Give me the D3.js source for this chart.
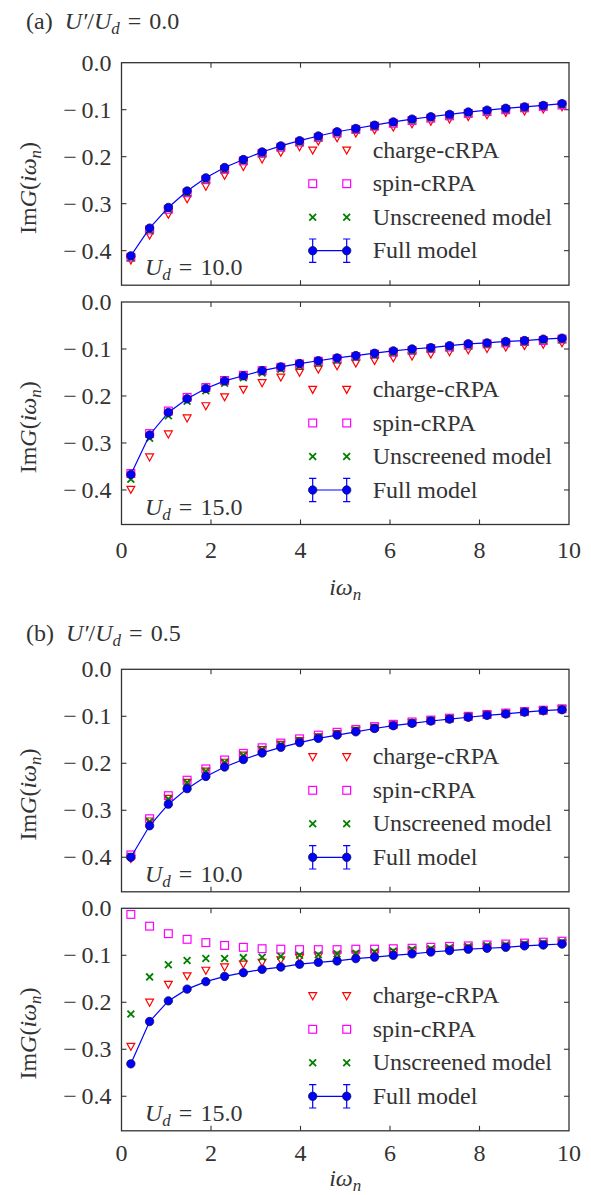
<!DOCTYPE html>
<html>
<head>
<meta charset="utf-8">
<script src="https://cdn.jsdelivr.net/npm/d3@7"></script>
<style>
  body { margin: 0; background: #fff; }
  svg { display: block; }
  text { font-family: 'Liberation Serif', 'Times New Roman', serif; fill: #333; }
</style>
</head>
<body>
<svg id="chart" width="591" height="1195"></svg>
<script>
// Matsubara frequencies (beta = 15)
const omega = [0.209, 0.628, 1.047, 1.466, 1.885, 2.304, 2.723, 3.142, 3.560, 3.979, 4.398, 4.817,
               5.236, 5.655, 6.074, 6.493, 6.912, 7.330, 7.749, 8.168, 8.587, 9.006, 9.425, 9.844];

const xTicks = [0, 2, 4, 6, 8, 10];
const yTicks = [0.0, -0.1, -0.2, -0.3, -0.4];
const seriesNames = ["charge-cRPA", "spin-cRPA", "Unscreened model", "Full model"];
const panelUd = ["10.0", "15.0", "10.0", "15.0"];
const groupLabels = [["(a)", "0.0"], ["(b)", "0.5"]];

// U'/Ud = 0.0, Ud = 10
const chargeA10 = [-0.420, -0.367, -0.323, -0.290, -0.263, -0.240, -0.221, -0.205, -0.191, -0.179, -0.167, -0.160,
                   -0.150, -0.143, -0.137, -0.130, -0.125, -0.120, -0.115, -0.111, -0.106, -0.103, -0.099, -0.094];
const spinA10   = [-0.414, -0.356, -0.312, -0.277, -0.249, -0.227, -0.209, -0.193, -0.180, -0.169, -0.159, -0.150,
                   -0.142, -0.135, -0.129, -0.123, -0.118, -0.113, -0.108, -0.104, -0.100, -0.096, -0.093, -0.090];
const unscrA10  = [-0.415, -0.357, -0.312, -0.277, -0.249, -0.227, -0.209, -0.193, -0.180, -0.169, -0.159, -0.150,
                   -0.142, -0.135, -0.128, -0.122, -0.117, -0.112, -0.107, -0.103, -0.099, -0.096, -0.092, -0.089];
const fullA10   = [-0.411, -0.352, -0.308, -0.273, -0.245, -0.223, -0.206, -0.190, -0.177, -0.166, -0.156, -0.147,
                   -0.140, -0.133, -0.126, -0.120, -0.115, -0.110, -0.105, -0.101, -0.097, -0.094, -0.091, -0.087];

// U'/Ud = 0.0, Ud = 15
const chargeA15 = [-0.399, -0.330, -0.281, -0.247, -0.221, -0.202, -0.186, -0.172, -0.160, -0.150, -0.143, -0.136,
                   -0.130, -0.125, -0.119, -0.115, -0.111, -0.106, -0.102, -0.099, -0.096, -0.093, -0.090, -0.087];
const spinA15   = [-0.365, -0.280, -0.232, -0.203, -0.182, -0.167, -0.156, -0.146, -0.139, -0.132, -0.126, -0.121,
                   -0.116, -0.111, -0.107, -0.103, -0.099, -0.096, -0.092, -0.089, -0.087, -0.084, -0.082, -0.079];
const unscrA15  = [-0.377, -0.290, -0.242, -0.211, -0.189, -0.173, -0.161, -0.151, -0.143, -0.136, -0.130, -0.124,
                   -0.118, -0.113, -0.108, -0.104, -0.100, -0.097, -0.093, -0.090, -0.087, -0.085, -0.082, -0.080];
const fullA15   = [-0.367, -0.283, -0.235, -0.206, -0.184, -0.168, -0.157, -0.146, -0.138, -0.131, -0.125, -0.119,
                   -0.114, -0.109, -0.104, -0.100, -0.097, -0.093, -0.089, -0.087, -0.084, -0.082, -0.079, -0.077];

// U'/Ud = 0.5, Ud = 10
const chargeB10 = [-0.403, -0.323, -0.275, -0.241, -0.217, -0.198, -0.183, -0.171, -0.160, -0.152, -0.144, -0.137,
                   -0.130, -0.124, -0.119, -0.114, -0.109, -0.105, -0.101, -0.097, -0.094, -0.091, -0.088, -0.085];
const spinB10   = [-0.395, -0.318, -0.269, -0.236, -0.212, -0.193, -0.179, -0.167, -0.157, -0.148, -0.140, -0.134,
                   -0.128, -0.122, -0.117, -0.112, -0.108, -0.104, -0.100, -0.096, -0.093, -0.090, -0.087, -0.084];
const unscrB10  = [-0.398, -0.324, -0.276, -0.241, -0.217, -0.198, -0.183, -0.171, -0.160, -0.152, -0.144, -0.137,
                   -0.130, -0.124, -0.119, -0.114, -0.109, -0.105, -0.101, -0.097, -0.094, -0.091, -0.088, -0.085];
const fullB10   = [-0.400, -0.333, -0.287, -0.254, -0.228, -0.208, -0.192, -0.178, -0.166, -0.156, -0.147, -0.140,
                   -0.133, -0.126, -0.120, -0.115, -0.110, -0.106, -0.102, -0.098, -0.095, -0.091, -0.088, -0.086];

// U'/Ud = 0.5, Ud = 15
const chargeB15 = [-0.294, -0.200, -0.162, -0.144, -0.132, -0.125, -0.119, -0.115, -0.110, -0.105, -0.102, -0.100,
                   -0.098, -0.096, -0.094, -0.091, -0.089, -0.087, -0.085, -0.083, -0.081, -0.079, -0.077, -0.075];
const spinB15   = [-0.013, -0.038, -0.054, -0.066, -0.073, -0.079, -0.083, -0.086, -0.087, -0.088, -0.088, -0.088,
                   -0.087, -0.087, -0.086, -0.085, -0.083, -0.081, -0.080, -0.078, -0.076, -0.074, -0.072, -0.070];
const unscrB15  = [-0.225, -0.146, -0.120, -0.111, -0.107, -0.107, -0.105, -0.104, -0.102, -0.100, -0.099, -0.097,
                   -0.096, -0.093, -0.091, -0.088, -0.086, -0.084, -0.082, -0.080, -0.078, -0.076, -0.074, -0.072];
const fullB15   = [-0.331, -0.241, -0.197, -0.172, -0.156, -0.145, -0.137, -0.130, -0.125, -0.119, -0.115, -0.112,
                   -0.107, -0.104, -0.100, -0.097, -0.093, -0.090, -0.087, -0.085, -0.083, -0.080, -0.078, -0.076];

const panelData = [
  [chargeA10, spinA10, unscrA10, fullA10],
  [chargeA15, spinA15, unscrA15, fullA15],
  [chargeB10, spinB10, unscrB10, fullB10],
  [chargeB15, spinB15, unscrB15, fullB15]
];

// ---- layout ----
const plotLeft = 121.5, plotRight = 569;
const panelTops = [62.7, 302, 669.3, 908.3];
const panelH = 222.5;
const colors = { charge: "#ff0000", spin: "#ff00ff", unscr: "#008000", full: "#0000ff" };
const axisColor = "#333";
const FS = 24, SUB = 17;
// the lower panel of each group carries the x axis labels
const xAxisText = { 1: { tick: 33, label: 70 }, 3: { tick: 30, label: 55 } };

const svg = d3.select("#chart");
const x = d3.scaleLinear().domain([0, 10]).range([plotLeft, plotRight]);

// marker drawers
function triDown(g, cx, cy) {
  g.append("path")
    .attr("d", `M${cx - 3.9},${cy - 3.1}L${cx + 3.9},${cy - 3.1}L${cx},${cy + 3.9}Z`)
    .attr("fill", "none").attr("stroke", colors.charge).attr("stroke-width", 1.2);
}
function square(g, cx, cy) {
  g.append("rect").attr("x", cx - 3.9).attr("y", cy - 3.9).attr("width", 7.8).attr("height", 7.8)
    .attr("fill", "none").attr("stroke", colors.spin).attr("stroke-width", 1.2);
}
function cross(g, cx, cy) {
  g.append("path")
    .attr("d", `M${cx - 3.4},${cy - 3.4}L${cx + 3.4},${cy + 3.4}M${cx - 3.4},${cy + 3.4}L${cx + 3.4},${cy - 3.4}`)
    .attr("fill", "none").attr("stroke", colors.unscr).attr("stroke-width", 1.8);
}
function dot(g, cx, cy) {
  g.append("circle").attr("cx", cx).attr("cy", cy).attr("r", 4.2)
    .attr("fill", colors.full).attr("stroke", "#101050").attr("stroke-width", 0.8);
}
const markerFns = [triDown, square, cross, dot];

// "U_d" style italic symbol with italic subscript
function symbolWithSub(t, sym, sub) {
  t.append("tspan").attr("font-style", "italic").text(sym);
  t.append("tspan").attr("font-style", "italic").attr("font-size", SUB).attr("dy", 5).text(sub);
  return t.append("tspan").attr("dy", -5);
}

panelData.forEach((series, pi) => {
  const top = panelTops[pi];
  const bottom = top + panelH;
  const y = d3.scaleLinear().domain([-0.4735, 0]).range([bottom, top]);
  const g = svg.append("g");

  // inward ticks on all four sides
  const tickLen = 5;
  xTicks.slice(1, -1).forEach(t => {
    g.append("line").attr("x1", x(t)).attr("x2", x(t)).attr("y1", bottom).attr("y2", bottom - tickLen)
      .attr("stroke", axisColor).attr("stroke-width", 1.1);
    g.append("line").attr("x1", x(t)).attr("x2", x(t)).attr("y1", top).attr("y2", top + tickLen)
      .attr("stroke", axisColor).attr("stroke-width", 1.1);
  });
  yTicks.slice(1).forEach(t => {
    g.append("line").attr("x1", plotLeft).attr("x2", plotLeft + tickLen).attr("y1", y(t)).attr("y2", y(t))
      .attr("stroke", axisColor).attr("stroke-width", 1.1);
    g.append("line").attr("x1", plotRight).attr("x2", plotRight - tickLen).attr("y1", y(t)).attr("y2", y(t))
      .attr("stroke", axisColor).attr("stroke-width", 1.1);
  });

  // y tick labels (wide minus, as typeset in math mode)
  yTicks.forEach(t => {
    g.append("text").attr("x", plotLeft - 10).attr("y", y(t) + 8).attr("text-anchor", "end")
      .attr("font-size", FS)
      .text(t === 0 ? "0.0" : "\u2212\u2009" + Math.abs(t).toFixed(1));
  });

  // x tick labels and axis title
  if (xAxisText[pi]) {
    const off = xAxisText[pi];
    xTicks.forEach(t => {
      g.append("text").attr("x", x(t)).attr("y", bottom + off.tick).attr("text-anchor", "middle")
        .attr("font-size", FS).text(t);
    });
    const xl = g.append("text").attr("x", x(5)).attr("y", bottom + off.label).attr("text-anchor", "middle")
      .attr("font-size", FS);
    symbolWithSub(xl, "i\u03C9", "n");
  }

  // y axis label
  const yl = g.append("text")
    .attr("transform", `translate(36,${(top + bottom) / 2 + 14}) rotate(-90)`)
    .attr("text-anchor", "middle").attr("font-size", FS);
  yl.append("tspan").text("Im");
  yl.append("tspan").attr("font-style", "italic").text("G");
  yl.append("tspan").text("(");
  symbolWithSub(yl, "i\u03C9", "n").text(")");

  // data markers: charge, spin, unscreened, then full model on top
  const mg = g.append("g");
  [0, 1, 2].forEach(si => {
    series[si].forEach((v, i) => markerFns[si](mg, x(omega[i]), y(v)));
  });
  const line = d3.line().x((d, i) => x(omega[i])).y(d => y(d));
  mg.append("path").datum(series[3]).attr("d", line)
    .attr("fill", "none").attr("stroke", colors.full).attr("stroke-width", 1.2);
  series[3].forEach((v, i) => dot(mg, x(omega[i]), y(v)));

  // frame
  g.append("rect").attr("x", plotLeft).attr("y", top).attr("width", plotRight - plotLeft).attr("height", panelH)
    .attr("fill", "none").attr("stroke", axisColor).attr("stroke-width", 1.3);

  // legend
  const lx1 = 312.7, lx2 = 346.7, ltx = 372.7;
  const rows = [87.5, 121, 154.5, 188];
  rows.forEach((r, si) => {
    const ry = top + r;
    if (si < 3) {
      markerFns[si](g, lx1, ry);
      markerFns[si](g, lx2, ry);
    } else {
      g.append("line").attr("x1", lx1).attr("x2", lx2).attr("y1", ry).attr("y2", ry)
        .attr("stroke", colors.full).attr("stroke-width", 1.2);
      [lx1, lx2].forEach(cx => {
        g.append("path")
          .attr("d", `M${cx},${ry - 11.7}L${cx},${ry + 11.7}M${cx - 3.6},${ry - 11.7}L${cx + 3.6},${ry - 11.7}M${cx - 3.6},${ry + 11.7}L${cx + 3.6},${ry + 11.7}`)
          .attr("fill", "none").attr("stroke", colors.full).attr("stroke-width", 1.2);
        dot(g, cx, ry);
      });
    }
    g.append("text").attr("x", ltx).attr("y", ry + 7.5).attr("font-size", FS).text(seriesNames[si]);
  });

  // U_d annotation
  const ann = g.append("text").attr("x", 145).attr("y", top + 212.5).attr("font-size", FS);
  symbolWithSub(ann, "U", "d").text("\u2004=\u2004" + panelUd[pi]);
});

// group titles
[[0, 29], [1, 641]].forEach(([gi, yy]) => {
  const t = svg.append("text").attr("x", 26).attr("y", yy).attr("font-size", FS);
  t.append("tspan").text(groupLabels[gi][0] + "\u2002");
  t.append("tspan").attr("font-style", "italic").text("U\u2032");
  t.append("tspan").text("/");
  symbolWithSub(t, "U", "d").text("\u2004=\u2004" + groupLabels[gi][1]);
});
</script>
</body>
</html>
